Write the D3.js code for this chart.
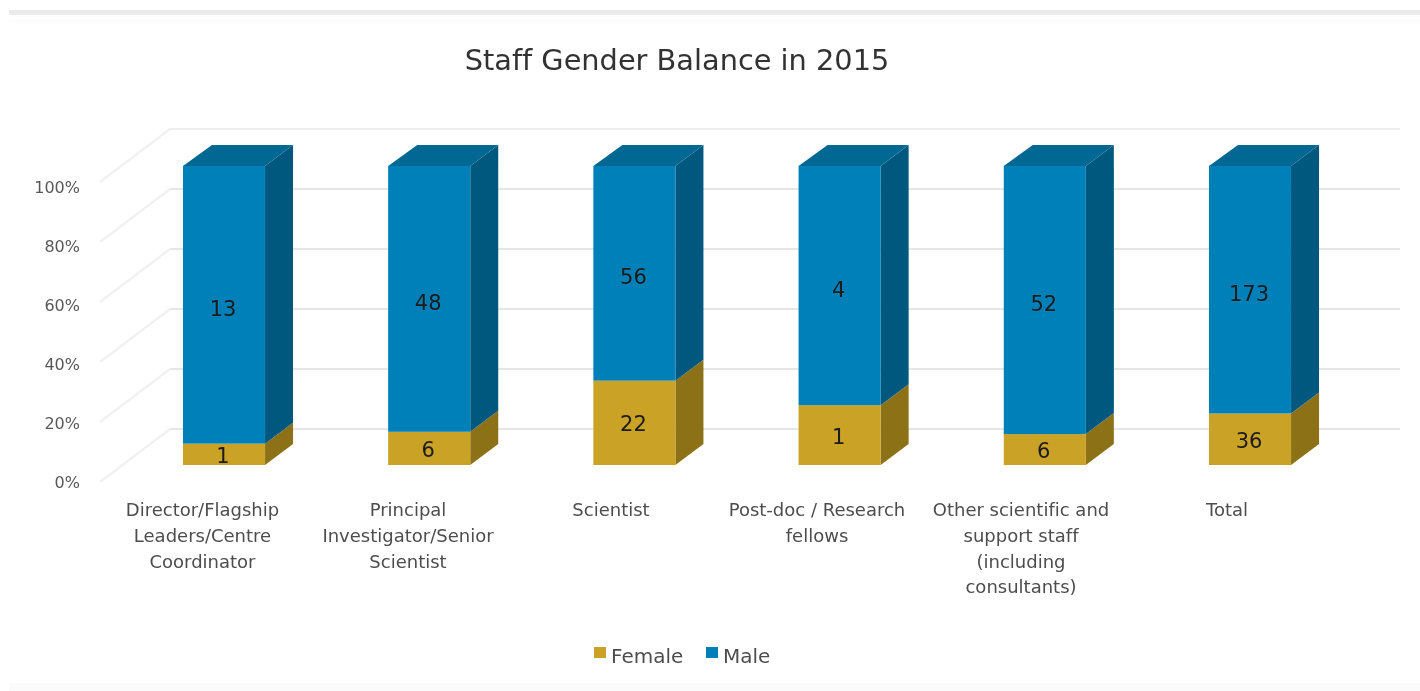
<!DOCTYPE html>
<html><head><meta charset="utf-8">
<script src="https://cdn.jsdelivr.net/npm/d3@7"></script>
<style>html,body{margin:0;background:#fff}svg{display:block}text{font-variant-ligatures:none}</style></head>
<body><svg id="c" width="1420" height="691"></svg>
<script>
const categories=[["Director/Flagship","Leaders/Centre","Coordinator"],["Principal","Investigator/Senior","Scientist"],["Scientist"],["Post-doc / Research","fellows"],["Other scientific and","support staff","(including","consultants)"],["Total"]];
const female=[1,6,22,1,6,36];
const male=[13,48,56,4,52,173];
const tickValues=[0,20,40,60,80,100];
const seriesNames=["Female","Male"];
const colors={Female:"#c9a227",Male:"#0480b8"};
const sideColors={Female:"#8c7119",Male:"#03587f"};
const topColor="#046892";
const font="'DejaVu Sans',sans-serif";
const svg=d3.select("#c");
svg.append("defs").append("filter").attr("id","soft").append("feGaussianBlur").attr("stdDeviation",0.55);
const root=svg.append("g").attr("filter","url(#soft)");
const dx=28,dy=-21;
const yFront=d3.scaleLinear().domain([0,100]).range([465,166]);
const yWall=d3.scaleLinear().domain([0,100]).range([429,129]);
const yTick=d3.scaleLinear().domain([0,100]).range([488,193]);
const x=d3.scaleBand().domain(d3.range(6)).range([121.4,1352.6]).paddingInner(0.6).paddingOuter(0.3);
root.append("rect").attr("x",9).attr("y",10).attr("width",1411).attr("height",5).attr("fill","#ebebeb");
root.append("rect").attr("x",9).attr("y",19).attr("width",1411).attr("height",3).attr("fill","#fcfcfc");
root.append("rect").attr("x",9).attr("y",683).attr("width",1411).attr("height",8).attr("fill","#fbfbfb");
root.append("text").attr("x",677).attr("y",70).attr("text-anchor","middle").attr("font-family",font).attr("font-size",28.8).attr("fill","#333").text("Staff Gender Balance in 2015");
const g=root.append("g").selectAll("g").data(tickValues).join("g");
g.append("line").attr("x1",170).attr("x2",1400).attr("y1",d=>yWall(d)).attr("y2",d=>yWall(d)).attr("stroke",d=>d===100?"#eeeeee":"#e6e6e6").attr("stroke-width",2);
g.append("line").attr("x1",170).attr("x2",100).attr("y1",d=>yWall(d)).attr("y2",d=>yWall(d)+53).attr("stroke","#f1f1f1").attr("stroke-width",2.5);
g.append("text").attr("x",80).attr("y",d=>yTick(d)).attr("text-anchor","end").attr("font-family",font).attr("font-size",16).attr("fill","#595959").text(d=>d+"%");
const bars=root.append("g").selectAll("g").data(d3.range(6)).join("g");
bars.each(function(i){
  const total=female[i]+male[i],fp=female[i]/total*100;
  const s=d3.select(this),l=x(i),r=l+x.bandwidth();
  const segs=[{n:"Female",a:0,b:fp,v:female[i],off:8.5},{n:"Male",a:fp,b:100,v:male[i],off:11}];
  const pts=a=>a.map(p=>p.join(",")).join(" ");
  segs.forEach(d=>{
    const y0=yFront(d.a),y1=yFront(d.b);
    s.append("polygon").attr("points",pts([[r,y0],[r+dx,y0+dy],[r+dx,y1+dy],[r,y1]])).attr("fill",sideColors[d.n]);
    s.append("rect").attr("x",l).attr("y",y1).attr("width",r-l).attr("height",y0-y1).attr("fill",colors[d.n]);
  });
  const t=yFront(100);
  s.append("polygon").attr("points",pts([[l,t],[l+dx+1,t+dy],[r+dx,t+dy],[r,t]])).attr("fill",topColor);
  segs.forEach(d=>{
    s.append("text").attr("x",(l+r)/2-1).attr("y",(yFront(d.a)+yFront(d.b))/2+d.off).attr("text-anchor","middle").attr("font-family",font).attr("font-size",21).attr("fill","#1a1a1a").text(d.v);
  });
  const cx=[202.5,408,611,817,1021,1227][i];
  categories[i].forEach((line,j)=>{
    s.append("text").attr("x",cx).attr("y",516+j*25.8).attr("text-anchor","middle").attr("font-family",font).attr("font-size",18).attr("fill","#4d4d4d").text(line);
  });
});
const lx=[594,706];
seriesNames.forEach((n,i)=>{
  root.append("rect").attr("x",lx[i]).attr("y",647).attr("width",12).attr("height",11).attr("fill",colors[n]);
  root.append("text").attr("x",lx[i]+17).attr("y",663).attr("font-family",font).attr("font-size",20).attr("fill","#4d4d4d").text(n);
});
</script></body></html>
